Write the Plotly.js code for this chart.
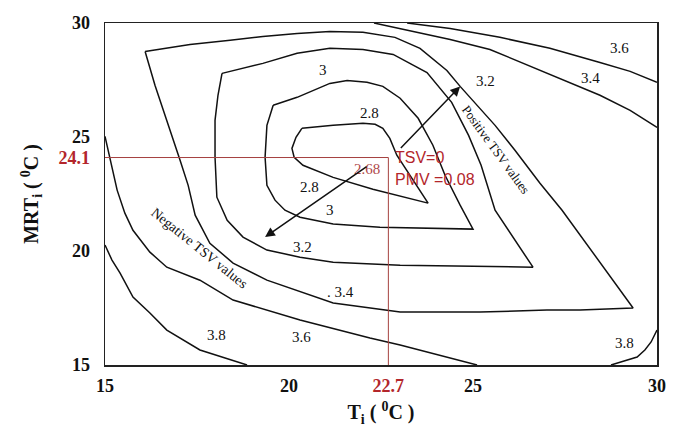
<!DOCTYPE html>
<html>
<head>
<meta charset="utf-8">
<script src="https://cdn.plot.ly/plotly-3.0.1.min.js"></script>
<style>
  html, body { margin: 0; padding: 0; background: #fff; }
  #chart { width: 680px; height: 433px; }
</style>
</head>
<body>
<div id="chart"></div>
<script>
// Indoor air temperature T_i (°C) vs mean radiant temperature MRT_i (°C),
// iso-lines of the comfort index around its minimum (2.68).

// Closed iso-line 2.8 (innermost)
const c28_T   = [20.35, 21.20, 22.01, 22.34, 22.55, 22.74, 22.93, 23.37, 23.78, 22.28, 21.20, 20.38, 20.14, 20.08, 20.19, 20.35];
const c28_MRT = [25.38, 25.51, 25.60, 25.56, 25.38, 24.94, 24.20, 23.10, 22.10, 22.71, 23.23, 23.76, 24.11, 24.50, 24.99, 25.38];

// Closed iso-line 3
const c30_T   = [19.57, 20.22, 21.11, 21.58, 22.12, 22.55, 23.02, 23.51, 23.91, 24.24, 24.65, 25.00, 22.47, 21.20, 20.30, 19.89, 19.62, 19.40, 19.35, 19.40, 19.57];
const c30_MRT = [26.39, 26.74, 27.35, 27.48, 27.40, 27.22, 26.70, 25.82, 24.64, 23.32, 22.01, 20.96, 21.04, 21.18, 21.48, 21.79, 22.23, 22.88, 24.11, 25.51, 26.39];

// Closed iso-line 3.2
const c32_T   = [18.18, 19.29, 20.22, 21.11, 22.01, 22.83, 23.75, 24.42, 24.88, 25.22, 25.60, 26.63, 23.02, 21.20, 20.30, 19.40, 18.75, 18.32, 18.04, 17.99, 17.99, 18.07, 18.18];
const c32_MRT = [27.79, 28.23, 28.67, 28.89, 28.84, 28.62, 27.83, 26.52, 25.07, 23.76, 21.79, 19.29, 19.38, 19.51, 19.73, 20.04, 20.61, 21.35, 22.36, 24.11, 25.73, 26.83, 27.79];

// Closed iso-line 3.4 (outer triangle-like loop)
const c34_T   = [16.09, 17.31, 18.40, 19.29, 20.22, 21.11, 22.01, 22.88, 23.56, 24.29, 24.65, 25.11, 25.60, 26.14, 26.82, 27.42, 28.45, 29.35, 27.91, 27.01, 25.19, 23.02, 21.20, 19.40, 18.48, 17.85, 17.45, 17.26, 17.04, 16.68, 16.36, 16.09];
const c34_MRT = [28.75, 29.06, 29.24, 29.41, 29.54, 29.63, 29.59, 29.37, 28.89, 27.92, 27.22, 26.39, 25.51, 24.42, 22.97, 21.79, 19.51, 17.50, 17.41, 17.41, 17.32, 17.32, 17.72, 18.72, 19.47, 20.34, 21.57, 22.88, 23.98, 25.73, 27.26, 28.75];

// Open iso-lines reaching the frame
const u34_T   = [22.31, 23.02, 24.38, 25.46, 27.09, 28.45, 29.27, 30.00];
const u34_MRT = [30.00, 29.76, 29.28, 28.84, 27.75, 26.83, 26.17, 25.42];
const u36_T   = [23.21, 24.38, 25.73, 27.09, 28.45, 29.27, 30.00];
const u36_MRT = [30.00, 29.76, 29.37, 28.89, 28.27, 27.88, 27.40];
const l36_T   = [15.00, 15.14, 15.33, 15.54, 15.76, 16.22, 16.68, 17.58, 18.48, 20.30, 22.20, 23.02, 24.10, 25.11];
const l36_MRT = [25.03, 23.98, 22.67, 21.66, 20.91, 19.95, 19.29, 18.72, 17.85, 16.97, 16.18, 15.88, 15.44, 15.00];
const l38_T   = [15.00, 15.19, 15.41, 15.76, 16.22, 16.68, 17.58, 18.86];
const l38_MRT = [20.26, 19.60, 19.03, 17.98, 17.28, 16.53, 15.66, 15.00];
const r38_T   = [28.75, 29.13, 29.46, 29.67, 29.84, 30.00];
const r38_MRT = [15.00, 15.18, 15.35, 15.66, 16.01, 16.53];

// Iso-line labels
const labelText = ['3.6', '3.4', '3.2', '3', '2.8', '2.8', '3', '3.2', '. 3.4', '3.8', '3.6', '3.8'];
const labelT    = [28.99, 28.18, 25.33, 20.92, 22.20, 20.57, 21.11, 20.38, 21.40, 18.04, 20.35, 29.13];
const labelMRT  = [28.89, 27.57, 27.44, 27.92, 26.04, 22.80, 21.79, 20.17, 18.20, 16.31, 16.23, 15.96];

// Comfort point
const optT = 22.7, optMRT = 24.1, optValue = 2.68;
const tsvText = 'TSV=0', pmvText = 'PMV =0.08';

// Axis ticks
const xTicks = [15, 20, 22.7, 25, 30];
const yTicks = [15, 20, 24.1, 25, 30];

const RED = '#b3262b';
const tickLabel = (v, hi) => hi ? '<span style="color:' + RED + '">' + v + '</span>' : String(v);

const lineStyle = { color: '#111', width: 1.5 };
const iso = (x, y) => ({ x, y, type: 'scatter', mode: 'lines', line: lineStyle, hoverinfo: 'skip' });

const traces = [
  iso(c28_T, c28_MRT), iso(c30_T, c30_MRT), iso(c32_T, c32_MRT), iso(c34_T, c34_MRT),
  iso(u34_T, u34_MRT), iso(u36_T, u36_MRT), iso(l36_T, l36_MRT), iso(l38_T, l38_MRT), iso(r38_T, r38_MRT),
  { x: [15, optT, optT], y: [optMRT, optMRT, 15], type: 'scatter', mode: 'lines',
    line: { color: '#a5413f', width: 1 }, hoverinfo: 'skip' }
];

const serif = 'Liberation Serif, Times New Roman, serif';
const annotations = labelText.map((t, i) => ({
  x: labelT[i], y: labelMRT[i], xref: 'x', yref: 'y', text: t, showarrow: false,
  font: { family: serif, size: 15, color: '#111' }
}));

annotations.push(
  { x: optT, y: optMRT, xref: 'x', yref: 'y', text: String(optValue), showarrow: false,
    xanchor: 'right', yanchor: 'top', xshift: -6, yshift: -1,
    font: { family: serif, size: 15, color: '#b0484a' } },
  { x: optT, y: optMRT, xref: 'x', yref: 'y', text: tsvText, showarrow: false,
    xanchor: 'left', yanchor: 'middle', xshift: 5, yshift: 0,
    font: { family: 'Liberation Sans, Arial, sans-serif', size: 16, color: RED } },
  { x: optT, y: optMRT, xref: 'x', yref: 'y', text: pmvText, showarrow: false,
    xanchor: 'left', yanchor: 'middle', xshift: 5, yshift: -22,
    font: { family: 'Liberation Sans, Arial, sans-serif', size: 16, color: RED } },
  { x: 25.62, y: 24.45, xref: 'x', yref: 'y', text: 'Positive TSV values', showarrow: false,
    textangle: 54, font: { family: serif, size: 13, color: '#111' } },
  { x: 17.58, y: 20.13, xref: 'x', yref: 'y', text: 'Negative TSV values', showarrow: false,
    textangle: 39, font: { family: serif, size: 14, color: '#111' } },
  // arrows pointing to the warmer and cooler sides
  { x: 24.65, y: 27.22, ax: 23.0, ay: 24.45, xref: 'x', yref: 'y', axref: 'x', ayref: 'y',
    text: '', showarrow: true, arrowhead: 2, arrowsize: 1.3, arrowwidth: 1.5, arrowcolor: '#111' },
  { x: 19.35, y: 20.61, ax: 22.15, ay: 23.75, xref: 'x', yref: 'y', axref: 'x', ayref: 'y',
    text: '', showarrow: true, arrowhead: 2, arrowsize: 1.3, arrowwidth: 1.5, arrowcolor: '#111' }
);

const tickFont = { family: serif, size: 18, color: '#111', weight: 700 };

const layout = {
  width: 680, height: 433,
  margin: { l: 105, r: 23, t: 23, b: 68 },
  paper_bgcolor: '#fff', plot_bgcolor: '#fff',
  showlegend: false,
  xaxis: {
    range: [15, 30], showgrid: false, zeroline: false,
    showline: true, mirror: true, linecolor: '#222', linewidth: 1.5, ticks: '',
    tickvals: xTicks, ticktext: xTicks.map(v => tickLabel(v, v === optT)),
    tickfont: tickFont, ticklabelstandoff: 4,
    title: { text: 'T<sub>i</sub> ( <sup>0</sup>C )', standoff: 10,
             font: { family: serif, size: 20, color: '#111', weight: 700 } }
  },
  yaxis: {
    range: [15, 30], showgrid: false, zeroline: false,
    showline: true, mirror: true, linecolor: '#222', linewidth: 1.5, ticks: '',
    tickvals: yTicks, ticktext: yTicks.map(v => tickLabel(v, v === optMRT)),
    tickfont: tickFont, ticklabelstandoff: 10,
    title: { text: 'MRT<sub>i</sub> ( <sup>0</sup>C )', standoff: 14,
             font: { family: serif, size: 20, color: '#111', weight: 700 } }
  },
  annotations
};

Plotly.newPlot('chart', traces, layout, { displayModeBar: false, staticPlot: true });
</script>
</body>
</html>
